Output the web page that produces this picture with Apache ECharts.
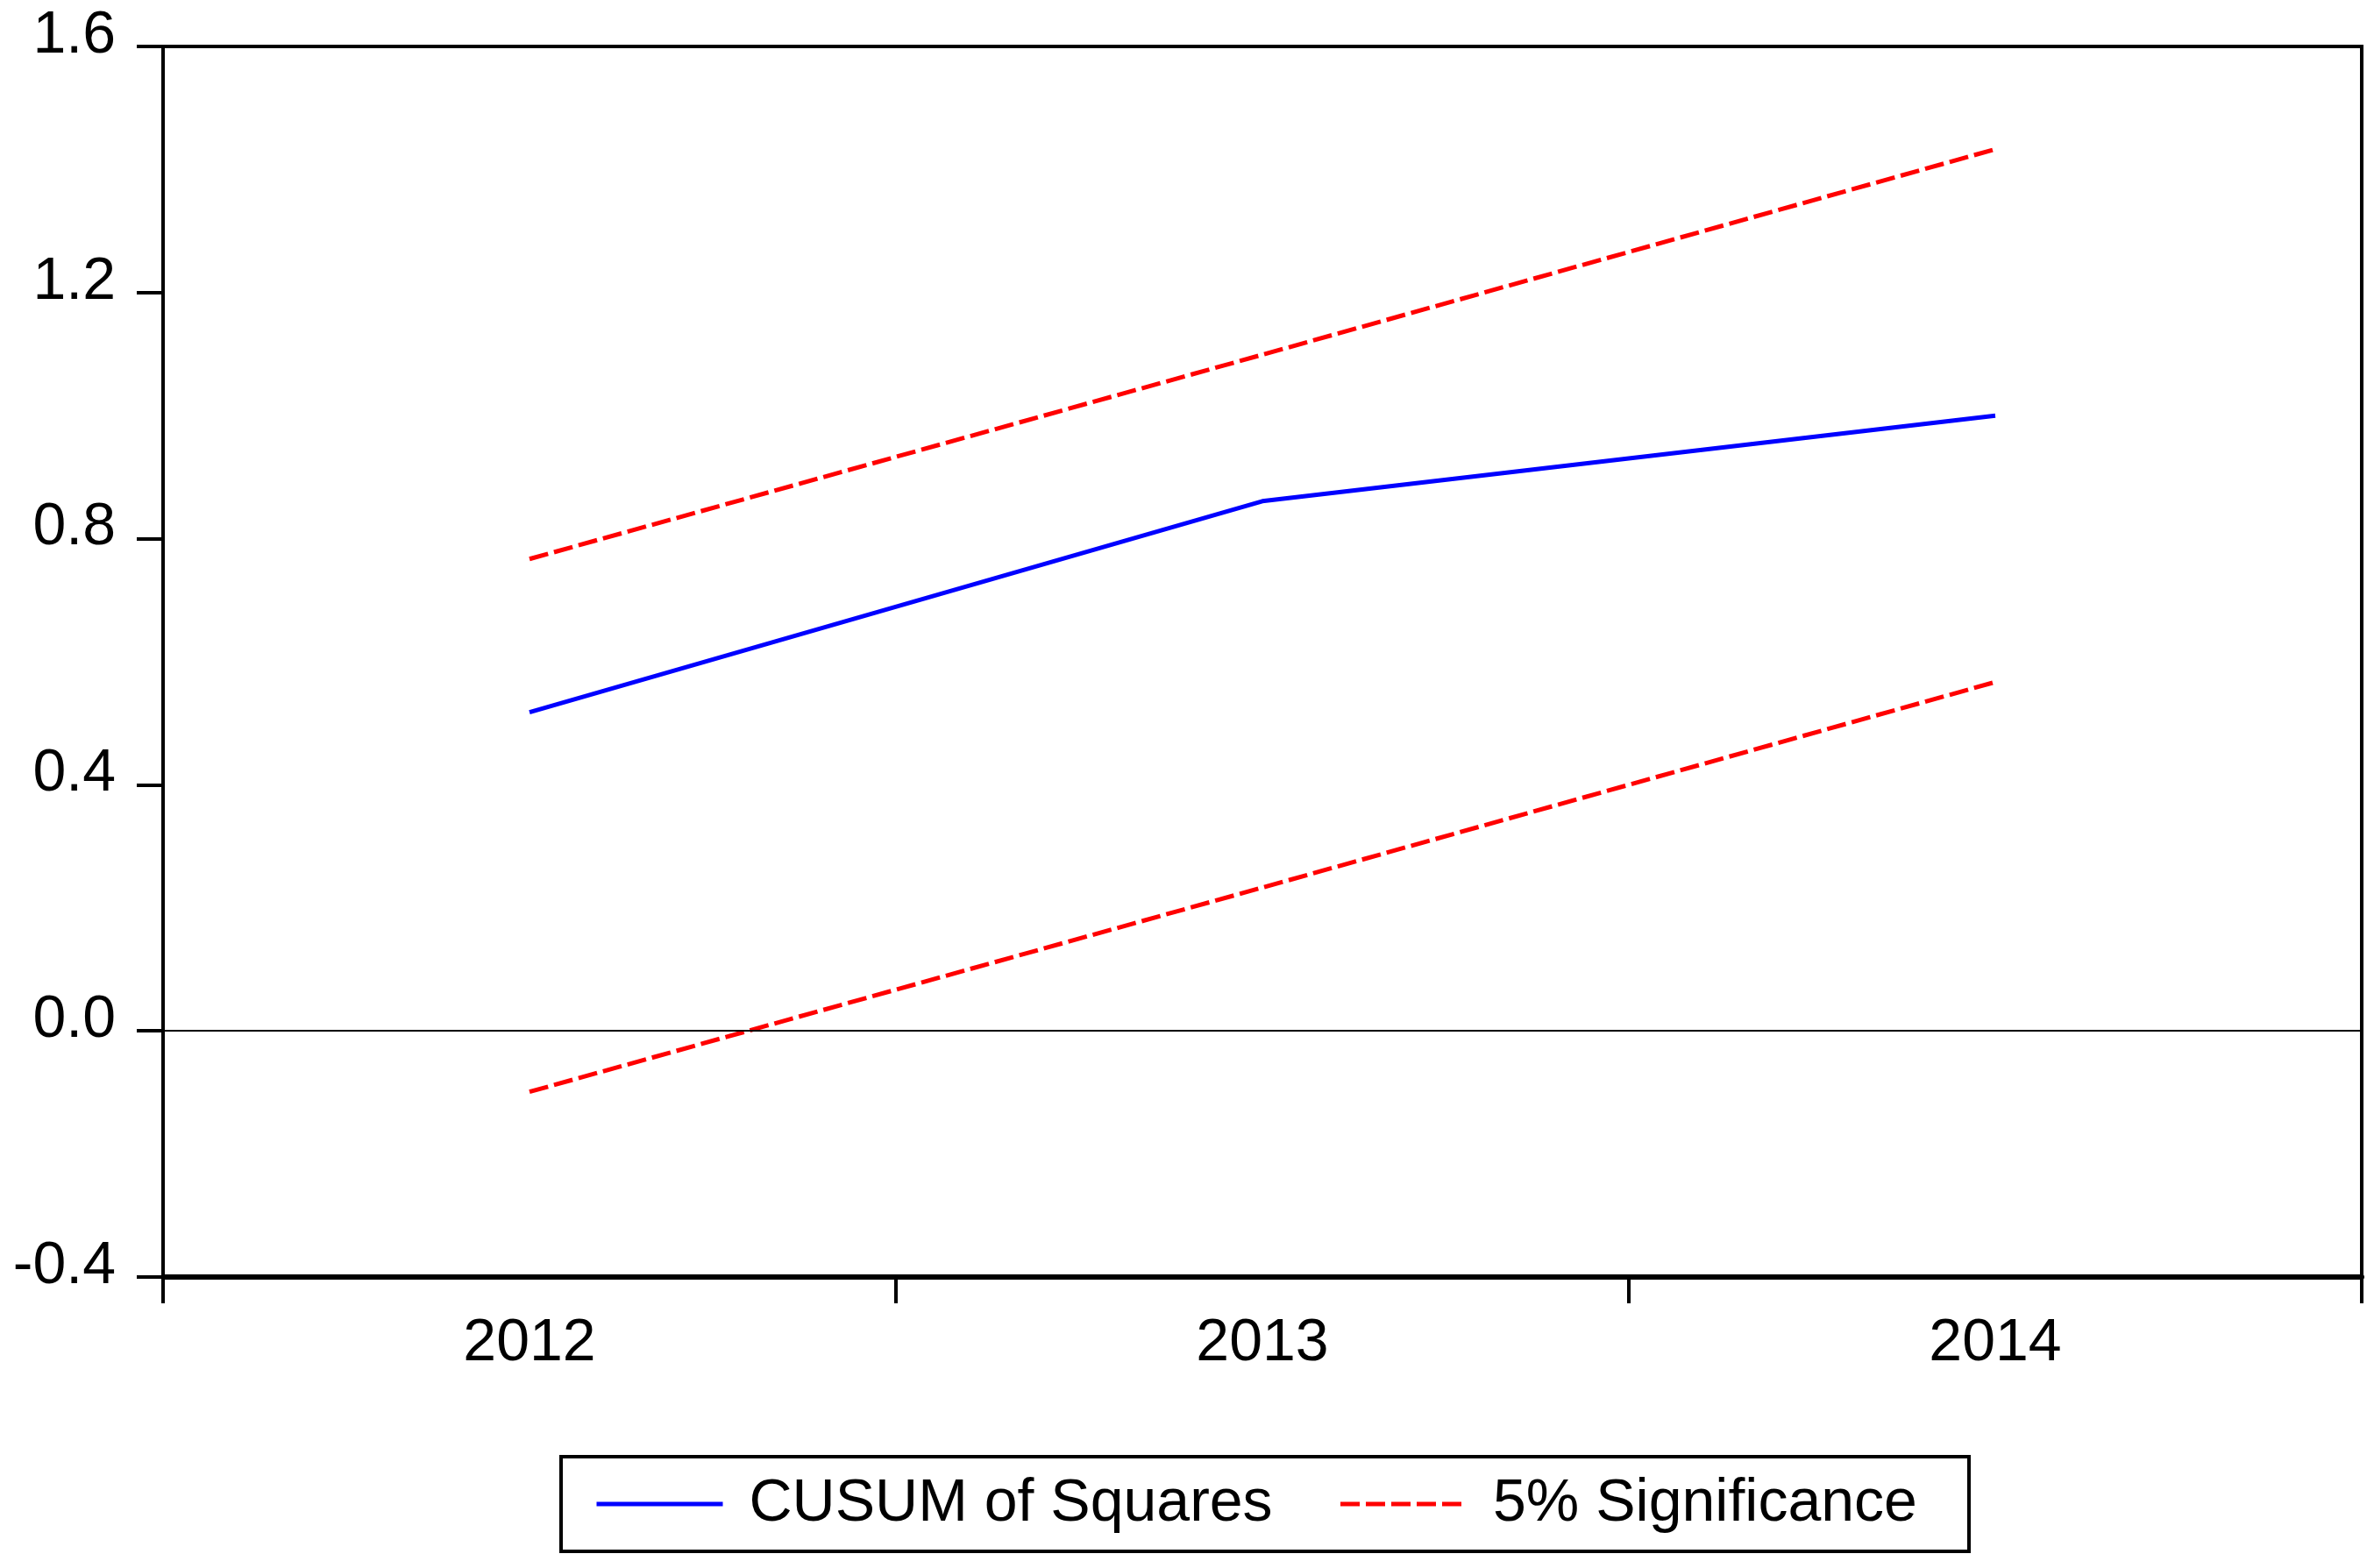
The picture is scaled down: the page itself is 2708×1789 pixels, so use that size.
<!DOCTYPE html>
<html>
<head>
<meta charset="utf-8">
<script src="https://cdn.jsdelivr.net/npm/echarts@6/dist/echarts.min.js"></script>
<style>
  html, body { margin: 0; padding: 0; background: #fff; }
  #chart { width: 2708px; height: 1789px; }
</style>
</head>
<body>
<div id="chart"></div>
<script>
// ---- data ----
const categories = ['2012', '2013', '2014'];
const cusumSq = [0.518, 0.861, 1.0];
const upperBound = [0.767, 1.099, 1.433];
const lowerBound = [-0.099, 0.233, 0.567];
const yTicks = { min: -0.4, max: 1.6, interval: 0.4 };
const seriesNames = ['CUSUM of Squares', '5% Significance'];

const FONT = "'Liberation Sans', Arial, Helvetica, sans-serif";
const chart = echarts.init(document.getElementById('chart'), null, { renderer: 'canvas' });

const option = {
  backgroundColor: '#ffffff',
  animation: false,
  grid: {
    left: 186, right: 14, top: 53, bottom: 332,
    show: true, borderColor: '#000', borderWidth: 4, backgroundColor: 'transparent'
  },
  legend: {
    left: 640, top: 1662,
    orient: 'horizontal',
    padding: [20, 38, 20, 38],
    borderColor: '#000', borderWidth: 4,
    itemWidth: 144, itemHeight: 14, itemGap: 51,
    itemStyle: { opacity: 0 },
    lineStyle: { width: 5 },
    textStyle: { fontFamily: FONT, fontSize: 68, color: '#000', padding: [0, 0, 0, 25], lineHeight: 68 },
    data: [
      { name: seriesNames[0], textStyle: { width: 621 } },
      { name: seriesNames[1], textStyle: { width: 505 } }
    ]
  },
  xAxis: {
    type: 'category',
    data: categories,
    boundaryGap: true,
    axisLine: { show: true, onZero: false, lineStyle: { color: '#000', width: 6 } },
    axisTick: { show: true, inside: false, length: 30, alignWithLabel: false, lineStyle: { color: '#000', width: 4 } },
    axisLabel: { fontFamily: FONT, fontSize: 68, color: '#000', margin: 42, lineHeight: 68 },
    splitLine: { show: false }
  },
  yAxis: {
    type: 'value',
    min: yTicks.min, max: yTicks.max, interval: yTicks.interval,
    axisLine: { show: true, lineStyle: { color: '#000', width: 4 } },
    axisTick: { show: true, inside: false, length: 30, lineStyle: { color: '#000', width: 4 } },
    axisLabel: {
      fontFamily: FONT, fontSize: 68, color: '#000', margin: 54,
      lineHeight: 24, verticalAlign: 'bottom',
      formatter: v => v.toFixed(1)
    },
    splitLine: { show: false }
  },
  series: [
    {
      name: seriesNames[0], type: 'line', data: cusumSq,
      symbol: 'none', showSymbol: false, color: '#0000ff',
      lineStyle: { color: '#0000ff', width: 5 },
      markLine: {
        silent: true, symbol: 'none', label: { show: false },
        lineStyle: { color: '#000', width: 2, type: 'solid' },
        data: [{ yAxis: 0 }]
      },
      z: 3
    },
    {
      name: seriesNames[1], type: 'line', data: upperBound,
      symbol: 'none', showSymbol: false, color: '#ff0000',
      lineStyle: { color: '#ff0000', width: 5, type: [22, 7] },
      z: 2
    },
    {
      name: seriesNames[1], type: 'line', data: lowerBound,
      symbol: 'none', showSymbol: false, color: '#ff0000',
      lineStyle: { color: '#ff0000', width: 5, type: [22, 7] },
      z: 2
    }
  ]
};
chart.setOption(option);
</script>
</body>
</html>
